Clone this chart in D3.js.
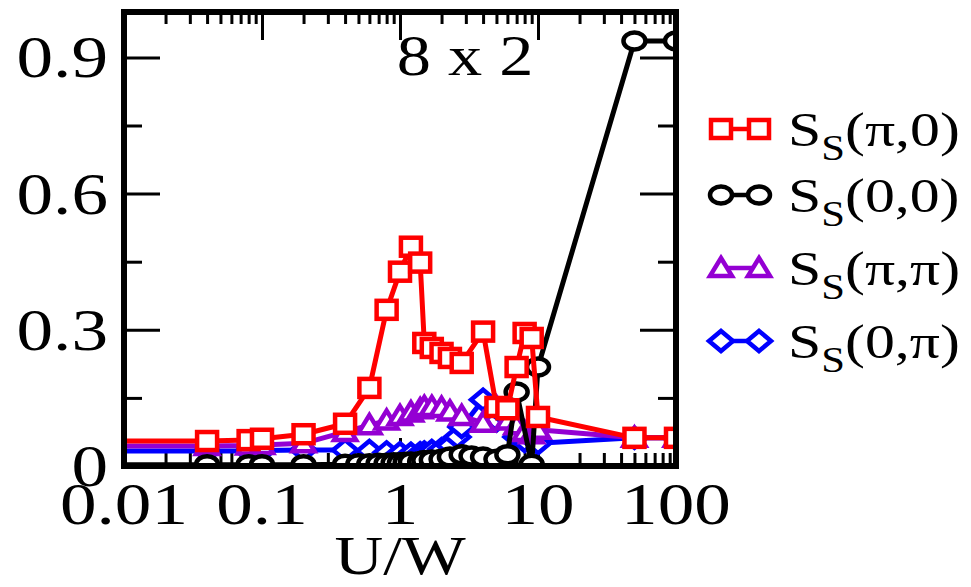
<!DOCTYPE html>
<html>
<head>
<meta charset="utf-8">
<script src="https://cdn.jsdelivr.net/npm/d3@7"></script>
<style>
  html, body { margin: 0; padding: 0; background: #fff; }
  svg { display: block; }
  text { font-family: "Liberation Serif", "DejaVu Serif", serif; fill: #000; }
</style>
</head>
<body>
<svg id="chart" width="971" height="587"></svg>
<script>
// S_S(pi,0) : red squares
const uPi0 = [0.001, 0.04, 0.08, 0.1, 0.2, 0.4, 0.6, 0.8, 1.0, 1.2, 1.4, 1.5, 1.7, 2.0, 2.3, 2.8, 4, 5, 6, 7, 8, 9, 10, 50, 100];
const sPi0 = [0.055, 0.055, 0.057, 0.06, 0.07, 0.093, 0.172, 0.344, 0.428, 0.483, 0.448, 0.271, 0.26, 0.249, 0.238, 0.227, 0.296, 0.13, 0.125, 0.218, 0.293, 0.282, 0.108, 0.062, 0.062];

// S_S(0,0) : black circles
const u00 = [0.001, 0.04, 0.08, 0.1, 0.2, 0.4, 0.5, 0.6, 0.7, 0.8, 0.9, 1.0, 1.1, 1.2, 1.4, 1.5, 1.7, 2.0, 2.3, 2.8, 3.3, 4, 5, 6, 7, 9, 10, 50, 100];
const s00 = [0.003, 0.003, 0.003, 0.003, 0.003, 0.004, 0.005, 0.005, 0.006, 0.006, 0.007, 0.007, 0.008, 0.009, 0.01, 0.012, 0.013, 0.015, 0.02, 0.025, 0.022, 0.02, 0.015, 0.025, 0.163, 0.004, 0.218, 0.936, 0.936];

// S_S(pi,pi) : purple triangles
const uPiPi = [0.001, 0.04, 0.08, 0.1, 0.2, 0.4, 0.6, 0.8, 1.0, 1.2, 1.4, 1.5, 1.7, 2.0, 2.3, 2.8, 4, 5, 6, 7, 8, 9, 10, 50, 100];
const sPiPi = [0.044, 0.044, 0.045, 0.046, 0.05, 0.075, 0.09, 0.1, 0.11, 0.118, 0.125, 0.13, 0.13, 0.128, 0.12, 0.11, 0.095, 0.13, 0.1, 0.09, 0.075, 0.07, 0.08, 0.062, 0.062];

// S_S(0,pi) : blue diamonds
const u0Pi = [0.001, 0.04, 0.08, 0.1, 0.2, 0.4, 0.6, 0.8, 1.0, 1.2, 1.4, 1.5, 1.7, 2.0, 2.3, 2.6, 2.8, 4, 5, 6, 7, 8, 10, 50, 100];
const s0Pi = [0.033, 0.033, 0.033, 0.034, 0.035, 0.035, 0.033, 0.03, 0.028, 0.027, 0.028, 0.03, 0.033, 0.037, 0.045, 0.064, 0.086, 0.146, 0.10, 0.108, 0.064, 0.055, 0.05, 0.062, 0.062];

// axis ticks and labels
const xMajor = [0.01, 0.1, 1, 10, 100];
const xLabels = ["0.01", "0.1", "1", "10", "100"];
const yMajor = [0, 0.3, 0.6, 0.9];
const yLabels = ["0", "0.3", "0.6", "0.9"];
const yMinor = [0.15, 0.45, 0.75];

const legendLabels = ["(\u03c0,0)", "(0,0)", "(\u03c0,\u03c0)", "(0,\u03c0)"];
const titleText = "8 x 2";
const xTitle = "U/W";

// ---------------------------------------------------------------
const svg = d3.select("#chart");
const L = 124, R = 676, T = 12, B = 466;
const SX = 1.22; // horizontal stretch of glyphs

const x = d3.scaleLog().domain([0.01, 100]).range([L, R]);
const y = d3.scaleLinear().domain([0, 1.0]).range([B, T]);

const xMinor = [];
[0.01, 0.1, 1, 10].forEach(d => { for (let k = 2; k <= 9; k++) xMinor.push(d * k); });

svg.append("defs").append("clipPath").attr("id", "plotClip")
  .append("rect").attr("x", L).attr("y", T).attr("width", R - L).attr("height", B - T);

// ticks on all four sides, pointing inward
function tickAxis(axisFn, scale, vals, size, tr) {
  const g = svg.append("g").attr("transform", tr)
    .call(axisFn(scale).tickValues(vals).tickSize(size).tickFormat(""));
  g.select(".domain").remove();
  g.selectAll(".tick line").attr("stroke", "#000").attr("stroke-width", 3);
  return g;
}
tickAxis(d3.axisBottom, x, xMajor, -28, `translate(0,${B})`);
tickAxis(d3.axisBottom, x, xMinor, -13, `translate(0,${B})`);
tickAxis(d3.axisTop, x, xMajor, -28, `translate(0,${T})`);
tickAxis(d3.axisTop, x, xMinor, -12, `translate(0,${T})`);
tickAxis(d3.axisLeft, y, yMajor, -36, `translate(${L},0)`);
tickAxis(d3.axisLeft, y, yMinor, -18, `translate(${L},0)`);
tickAxis(d3.axisRight, y, yMajor, -36, `translate(${R},0)`);
tickAxis(d3.axisRight, y, yMinor, -18, `translate(${R},0)`);

// tick labels
const tickFont = 60;
svg.append("g").selectAll("text").data(xMajor).join("text")
  .attr("transform", d => `translate(${x(d)},524) scale(${SX},1)`)
  .attr("text-anchor", "middle").attr("font-size", tickFont)
  .text((d, i) => xLabels[i]);
svg.append("g").selectAll("text").data(yMajor).join("text")
  .attr("transform", d => `translate(108,${y(d) + 20}) scale(${SX},1)`)
  .attr("text-anchor", "end").attr("font-size", tickFont)
  .text((d, i) => yLabels[i]);

// axis title and panel label
svg.append("text").attr("transform", `translate(400,574) scale(1.25,1)`)
  .attr("text-anchor", "middle").attr("font-size", 54).text(xTitle);
svg.append("text").attr("transform", `translate(465,75) scale(${SX},1)`)
  .attr("text-anchor", "middle").attr("font-size", 56).text(titleText);

// marker shapes (slightly wider than tall)
function drawMarker(sel, kind, color) {
  if (kind === "square") {
    sel.append("rect").attr("x", -10).attr("y", -9).attr("width", 20).attr("height", 18);
  } else if (kind === "circle") {
    sel.append("ellipse").attr("rx", 11).attr("ry", 8.5);
  } else if (kind === "triangle") {
    sel.append("path").attr("d", "M0,-10 L11,8 L-11,8 Z");
  } else {
    sel.append("path").attr("d", "M0,-10 L12,0 L0,10 L-12,0 Z");
  }
  sel.selectAll("rect,ellipse,path").attr("fill", "#fff").attr("stroke", color).attr("stroke-width", 4.5);
}

const series = [
  { u: uPi0, v: sPi0, color: "#ff0000", kind: "square" },
  { u: u00, v: s00, color: "#000000", kind: "circle" },
  { u: uPiPi, v: sPiPi, color: "#9400d3", kind: "triangle" },
  { u: u0Pi, v: s0Pi, color: "#0000ff", kind: "diamond" }
];

const line = d3.line().x(d => x(d[0])).y(d => y(d[1]));
const plot = svg.append("g").attr("clip-path", "url(#plotClip)");
// draw in reverse so the red curve sits on top
series.slice().reverse().forEach(s => {
  const pts = s.u.map((u, i) => [u, s.v[i]]);
  const g = plot.append("g");
  g.append("path").datum(pts).attr("d", line)
    .attr("fill", "none").attr("stroke", s.color).attr("stroke-width", 5).attr("stroke-linejoin", "round");
  g.selectAll("g.m").data(pts).join("g").attr("class", "m")
    .attr("transform", d => `translate(${x(d[0])},${y(d[1])})`)
    .each(function () { drawMarker(d3.select(this), s.kind, s.color); });
});

// frame
svg.append("rect").attr("x", L).attr("y", T).attr("width", R - L).attr("height", B - T)
  .attr("fill", "none").attr("stroke", "#000").attr("stroke-width", 6);

// legend
const legY = [129, 195, 268, 341];
const leg = svg.append("g");
series.forEach((s, i) => {
  const g = leg.append("g").attr("transform", `translate(0,${legY[i]})`);
  g.append("line").attr("x1", 721).attr("x2", 759).attr("y1", 0).attr("y2", 0)
    .attr("stroke", s.color).attr("stroke-width", 4.5);
  [721, 759].forEach(cx => {
    const m = g.append("g").attr("transform", `translate(${cx},0)`);
    drawMarker(m, s.kind, s.color);
  });
  const t = g.append("text").attr("transform", `translate(788,17) scale(${SX},1)`).attr("font-size", 49);
  t.append("tspan").text("S");
  t.append("tspan").attr("font-size", 35).attr("dy", 14).text("S");
  t.append("tspan").attr("dy", -14).text(legendLabels[i]);
});
</script>
</body>
</html>
